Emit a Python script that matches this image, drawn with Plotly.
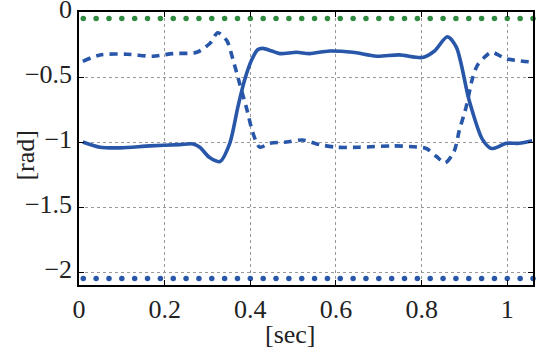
import plotly.graph_objects as go

# solid line (rad) over time (sec)
t_solid = [0.009, 0.049, 0.096, 0.166, 0.235, 0.266, 0.282, 0.305, 0.329, 0.352, 0.371,
           0.387, 0.403, 0.417, 0.429, 0.45, 0.469, 0.508, 0.538, 0.585, 0.639, 0.695,
           0.748, 0.802, 0.83, 0.86, 0.881, 0.911, 0.942, 0.963, 0.998, 1.028, 1.058]
v_solid = [-1.00, -1.04, -1.045, -1.03, -1.02, -1.015, -1.04, -1.12, -1.15, -1.01, -0.73,
           -0.52, -0.37, -0.29, -0.28, -0.30, -0.32, -0.31, -0.32, -0.30, -0.31, -0.34,
           -0.33, -0.35, -0.30, -0.19, -0.27, -0.68, -0.98, -1.05, -1.01, -1.01, -0.99]

# dashed line
t_dash = [0.009, 0.049, 0.112, 0.172, 0.219, 0.275, 0.306, 0.324, 0.345, 0.359, 0.375,
          0.392, 0.406, 0.422, 0.445, 0.485, 0.522, 0.562, 0.601, 0.655, 0.732, 0.795,
          0.811, 0.834, 0.855, 0.876, 0.888, 0.904, 0.918, 0.93, 0.946, 0.963, 0.998, 1.058]
v_dash = [-0.38, -0.33, -0.325, -0.34, -0.32, -0.31, -0.24, -0.16, -0.22, -0.36, -0.55,
          -0.75, -0.93, -1.04, -1.01, -1.00, -0.985, -1.02, -1.04, -1.04, -1.03, -1.04,
          -1.05, -1.11, -1.16, -1.07, -0.91, -0.73, -0.52, -0.41, -0.35, -0.31, -0.36, -0.385]

# dotted limit lines
t_limit = [0.01, 0.04, 0.07, 0.10, 0.13, 0.16, 0.19, 0.22, 0.25, 0.28, 0.31, 0.34,
           0.37, 0.40, 0.43, 0.46, 0.49, 0.52, 0.55, 0.58, 0.61, 0.64, 0.67, 0.70,
           0.73, 0.76, 0.79, 0.82, 0.85, 0.88, 0.91, 0.94, 0.97, 1.00, 1.03, 1.06]
upper_limit = [-0.05] * len(t_limit)
lower_limit = [-2.05] * len(t_limit)

x_ticks = [0, 0.2, 0.4, 0.6, 0.8, 1]
y_ticks = [0, -0.5, -1, -1.5, -2]

blue = "#2856a8"
green = "#2f8a40"

fig = go.Figure()
fig.add_trace(go.Scatter(x=t_limit, y=upper_limit, mode="markers",
                         marker=dict(color=green, size=5.5), cliponaxis=False))
fig.add_trace(go.Scatter(x=t_limit, y=lower_limit, mode="markers",
                         marker=dict(color=blue, size=5.5), cliponaxis=False))
fig.add_trace(go.Scatter(x=t_dash, y=v_dash, mode="lines",
                         line=dict(color=blue, width=3.6, dash="8px,6px", shape="spline", smoothing=0.8)))
fig.add_trace(go.Scatter(x=t_solid, y=v_solid, mode="lines",
                         line=dict(color=blue, width=3.6, shape="spline", smoothing=0.8)))

font = dict(family="Liberation Serif", size=26, color="#222")
axis_common = dict(showline=True, linecolor="black", linewidth=1.5, mirror="allticks",
                   ticks="inside", ticklen=5, tickcolor="black", showgrid=True,
                   gridcolor="#999", griddash="dot", gridwidth=1, zeroline=False,
                   tickfont=font, automargin=False, ticklabeloverflow="allow")

fig.update_layout(
    width=540, height=351,
    margin=dict(l=79, r=7, t=12, b=66),
    paper_bgcolor="white", plot_bgcolor="white",
    showlegend=False, font=font,
    xaxis=dict(range=[0, 1.06], tickvals=x_ticks, ticktext=[str(v) for v in x_ticks],
               **axis_common),
    yaxis=dict(range=[-2.1, 0], tickvals=y_ticks, ticklabelshift=-3, **axis_common),
)
fig.add_annotation(text="[sec]", xref="paper", yref="paper", x=0.4648, y=-0.1795,
                   xanchor="center", yanchor="middle", showarrow=False, font=font)
fig.add_annotation(text="[rad]", xref="paper", yref="paper", x=-0.1178, y=0.476,
                   xanchor="center", yanchor="middle", showarrow=False, font=font,
                   textangle=-90)
fig.write_html("out.html", config={"displayModeBar": False},
               post_script="document.body.style.margin='0';document.body.style.padding='0';")
